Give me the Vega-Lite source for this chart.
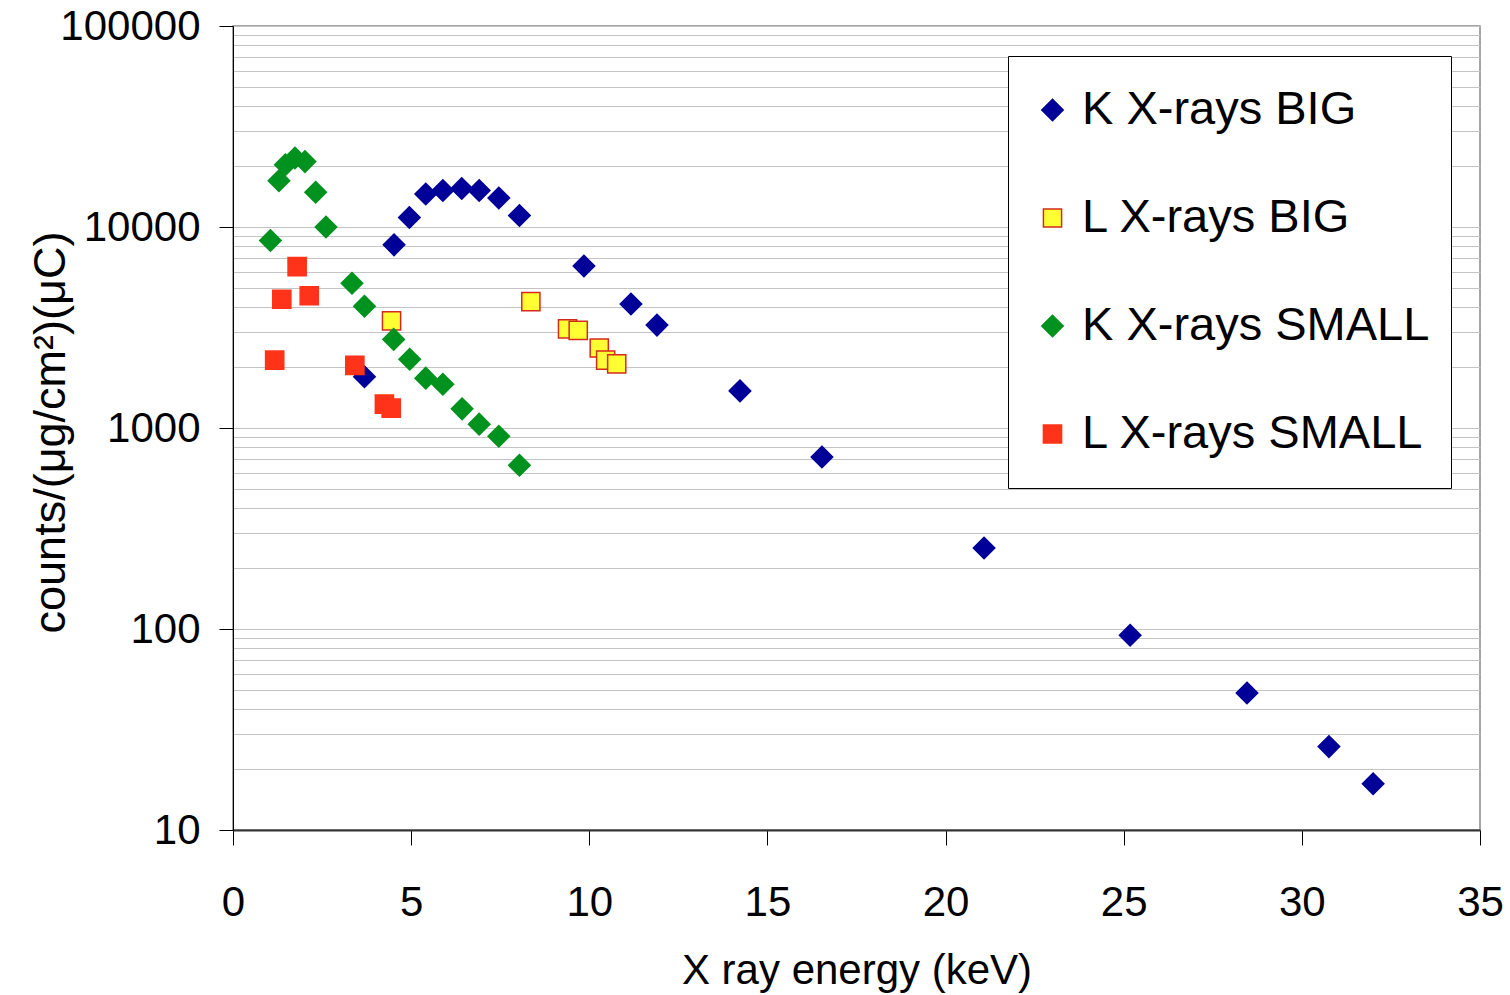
{
  "$schema": "https://vega.github.io/schema/vega-lite/v6.json",
  "width": 1247,
  "height": 804,
  "autosize": {"type": "none"},
  "padding": {"left": 233, "top": 26, "right": 30, "bottom": 165},
  "background": "white",
  "config": {
    "view": {"stroke": "#888888", "strokeWidth": 1.5},
    "font": "Liberation Sans"
  },
  "data": {
    "values": [
      {"series": "K X-rays BIG", "energy": 3.69, "counts": 1800},
      {"series": "K X-rays BIG", "energy": 4.52, "counts": 8150},
      {"series": "K X-rays BIG", "energy": 4.95, "counts": 11150},
      {"series": "K X-rays BIG", "energy": 5.41, "counts": 14600},
      {"series": "K X-rays BIG", "energy": 5.89, "counts": 15200},
      {"series": "K X-rays BIG", "energy": 6.42, "counts": 15550},
      {"series": "K X-rays BIG", "energy": 6.91, "counts": 15200},
      {"series": "K X-rays BIG", "energy": 7.46, "counts": 13950},
      {"series": "K X-rays BIG", "energy": 8.04, "counts": 11400},
      {"series": "K X-rays BIG", "energy": 9.85, "counts": 6400},
      {"series": "K X-rays BIG", "energy": 11.17, "counts": 4140},
      {"series": "K X-rays BIG", "energy": 11.9, "counts": 3250},
      {"series": "K X-rays BIG", "energy": 14.23, "counts": 1530},
      {"series": "K X-rays BIG", "energy": 16.53, "counts": 717},
      {"series": "K X-rays BIG", "energy": 21.08, "counts": 253},
      {"series": "K X-rays BIG", "energy": 25.18, "counts": 93},
      {"series": "K X-rays BIG", "energy": 28.46, "counts": 48},
      {"series": "K X-rays BIG", "energy": 30.76, "counts": 26},
      {"series": "K X-rays BIG", "energy": 32.0, "counts": 17},
      {"series": "L X-rays BIG", "energy": 4.45, "counts": 3410},
      {"series": "L X-rays BIG", "energy": 8.36, "counts": 4250},
      {"series": "L X-rays BIG", "energy": 9.39, "counts": 3115},
      {"series": "L X-rays BIG", "energy": 9.69, "counts": 3060},
      {"series": "L X-rays BIG", "energy": 10.28, "counts": 2500},
      {"series": "L X-rays BIG", "energy": 10.46, "counts": 2175},
      {"series": "L X-rays BIG", "energy": 10.77, "counts": 2085},
      {"series": "K X-rays SMALL", "energy": 1.05, "counts": 8560},
      {"series": "K X-rays SMALL", "energy": 1.29, "counts": 17000},
      {"series": "K X-rays SMALL", "energy": 1.47, "counts": 20400},
      {"series": "K X-rays SMALL", "energy": 1.74, "counts": 22050},
      {"series": "K X-rays SMALL", "energy": 2.02, "counts": 21150},
      {"series": "K X-rays SMALL", "energy": 2.32, "counts": 14900},
      {"series": "K X-rays SMALL", "energy": 2.61, "counts": 10000},
      {"series": "K X-rays SMALL", "energy": 3.34, "counts": 5250},
      {"series": "K X-rays SMALL", "energy": 3.69, "counts": 4030},
      {"series": "K X-rays SMALL", "energy": 4.51, "counts": 2760},
      {"series": "K X-rays SMALL", "energy": 4.96, "counts": 2200},
      {"series": "K X-rays SMALL", "energy": 5.41, "counts": 1770},
      {"series": "K X-rays SMALL", "energy": 5.89, "counts": 1650},
      {"series": "K X-rays SMALL", "energy": 6.43, "counts": 1245},
      {"series": "K X-rays SMALL", "energy": 6.91, "counts": 1045},
      {"series": "K X-rays SMALL", "energy": 7.46, "counts": 910},
      {"series": "K X-rays SMALL", "energy": 8.04, "counts": 652},
      {"series": "L X-rays SMALL", "energy": 1.17, "counts": 2175},
      {"series": "L X-rays SMALL", "energy": 1.37, "counts": 4370},
      {"series": "L X-rays SMALL", "energy": 1.8, "counts": 6350},
      {"series": "L X-rays SMALL", "energy": 2.14, "counts": 4550},
      {"series": "L X-rays SMALL", "energy": 3.42, "counts": 2050},
      {"series": "L X-rays SMALL", "energy": 4.25, "counts": 1315},
      {"series": "L X-rays SMALL", "energy": 4.44, "counts": 1255}
    ]
  },
  "mark": {"type": "point", "filled": true, "opacity": 1, "strokeWidth": 1.5},
  "encoding": {
    "x": {
      "field": "energy",
      "type": "quantitative",
      "scale": {"domain": [0, 35], "nice": false, "zero": false},
      "axis": {
        "title": "X ray energy (keV)",
        "values": [0, 5, 10, 15, 20, 25, 30, 35],
        "grid": false,
        "tickSize": 15,
        "tickColor": "black",
        "labelPadding": 37,
        "labelFontSize": 42,
        "labelColor": "black",
        "labelFlush": false,
        "domainColor": "#333333",
        "domainWidth": 2,
        "titleFontSize": 42,
        "titleFontWeight": "normal",
        "titleColor": "black",
        "titleY": 153,
        "titleBaseline": "alphabetic"
      }
    },
    "y": {
      "field": "counts",
      "type": "quantitative",
      "scale": {"type": "log", "domain": [10, 100000], "nice": false},
      "axis": {
        "title": "counts/(μg/cm²)(μC)",
        "values": [10, 20, 30, 40, 50, 60, 70, 80, 90, 100, 200, 300, 400, 500, 600, 700, 800, 900, 1000, 2000, 3000, 4000, 5000, 6000, 7000, 8000, 9000, 10000, 20000, 30000, 40000, 50000, 60000, 70000, 80000, 90000, 100000],
        "labelExpr": "indexof([10,100,1000,10000,100000], datum.value) >= 0 ? format(datum.value, 'd') : ''",
        "labelOverlap": false,
        "labelFlush": false,
        "tickColor": {"condition": {"test": "indexof([10,100,1000,10000,100000], datum.value) >= 0", "value": "black"}, "value": "transparent"},
        "tickSize": 14,
        "labelPadding": 19,
        "labelFontSize": 42,
        "labelColor": "black",
        "grid": true,
        "gridColor": "#c4c4c4",
        "gridWidth": 1,
        "domainColor": "black",
        "domainWidth": 1,
        "titleFontSize": 45,
        "titleFontWeight": "normal",
        "titleColor": "black",
        "titleX": -169,
        "titleY": 406,
        "titleBaseline": "alphabetic"
      }
    },
    "shape": {
      "field": "series",
      "type": "nominal",
      "scale": {"domain": ["K X-rays BIG", "L X-rays BIG", "K X-rays SMALL", "L X-rays SMALL"], "range": ["diamond", "square", "diamond", "square"]},
      "legend": {"title": null, "orient": "none", "legendX": 775, "legendY": 30, "fillColor": "white", "strokeColor": "black", "padding": 21, "symbolOffset": 0, "labelOffset": 6, "labelFontSize": 47, "labelColor": "black", "symbolStrokeWidth": 1.5, "rowPadding": 42, "clipHeight": 66, "labelLimit": 600}
    },
    "size": {
      "field": "series",
      "type": "nominal",
      "scale": {"type": "ordinal", "domain": ["K X-rays BIG", "L X-rays BIG", "K X-rays SMALL", "L X-rays SMALL"], "range": [460, 330, 460, 330]},
      "legend": {"title": null, "orient": "none", "legendX": 775, "legendY": 30, "fillColor": "white", "strokeColor": "black", "padding": 21, "symbolOffset": 0, "labelOffset": 6, "labelFontSize": 47, "labelColor": "black", "symbolStrokeWidth": 1.5, "rowPadding": 42, "clipHeight": 66, "labelLimit": 600}
    },
    "fill": {
      "field": "series",
      "type": "nominal",
      "scale": {"domain": ["K X-rays BIG", "L X-rays BIG", "K X-rays SMALL", "L X-rays SMALL"], "range": ["#000099", "#FFFF33", "#00921E", "#FF3319"]},
      "legend": {"title": null, "orient": "none", "legendX": 775, "legendY": 30, "fillColor": "white", "strokeColor": "black", "padding": 21, "symbolOffset": 0, "labelOffset": 6, "labelFontSize": 47, "labelColor": "black", "symbolStrokeWidth": 1.5, "rowPadding": 42, "clipHeight": 66, "labelLimit": 600}
    },
    "stroke": {
      "field": "series",
      "type": "nominal",
      "scale": {"domain": ["K X-rays BIG", "L X-rays BIG", "K X-rays SMALL", "L X-rays SMALL"], "range": ["#000099", "#D42A1E", "#00921E", "#FF3319"]},
      "legend": {"title": null, "orient": "none", "legendX": 775, "legendY": 30, "fillColor": "white", "strokeColor": "black", "padding": 21, "symbolOffset": 0, "labelOffset": 6, "labelFontSize": 47, "labelColor": "black", "symbolStrokeWidth": 1.5, "rowPadding": 42, "clipHeight": 66, "labelLimit": 600}
    }
  }
}
